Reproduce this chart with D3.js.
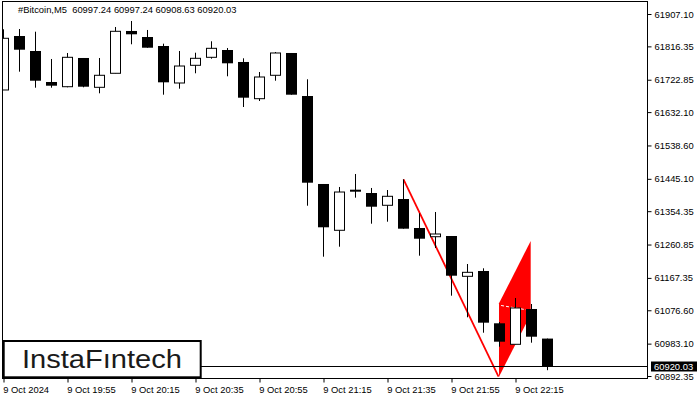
<!DOCTYPE html>
<html>
<head>
<meta charset="utf-8">
<script src="https://cdn.jsdelivr.net/npm/d3@7/dist/d3.min.js"></script>
<style>
  html, body { margin: 0; padding: 0; background: #fff; }
  svg { display: block; }
  text { font-family: "Liberation Sans", Arial, sans-serif; }
</style>
</head>
<body>
<svg id="chart" width="700" height="400"></svg>
<script>
// ---- data ----
const times = ["19:35","19:40","19:45","19:50","19:55","20:00","20:05","20:10","20:15","20:20",
  "20:25","20:30","20:35","20:40","20:45","20:50","20:55","21:00","21:05","21:10",
  "21:15","21:20","21:25","21:30","21:35","21:40","21:45","21:50","21:55","22:00",
  "22:05","22:10","22:15","22:20","22:25"];
const open  = [61694.1,61845.4,61803.4,61716.5,61703.3,61783.8,61701.6,61740.9,61859.5,61842.6,
  61817.4,61713.7,61763.3,61785.7,61806.2,61772.6,61669.7,61735.3,61797.8,61677.2,
  61430.6,61300.8,61414.6,61405.3,61370.9,61388.5,61307.2,61282.8,61284.8,61171.8,
  61186.7,61040.1,60981.2,61080.2,60997.24];
const high  = [61864.2,61865.0,61857.5,61781.0,61797.8,61783.8,61783.8,61870.7,61887.5,61862.3,
  61823.9,61803.4,61798.6,61830.6,61811.8,61782.9,61744.5,61800.6,61797.8,61724.1,
  61430.6,61422.2,61458.6,61419.4,61413.7,61443.7,61348.4,61352.1,61284.8,61206.3,
  61194.3,61043.7,61111.0,61094.2,60997.24];
const low   = [61694.1,61745.4,61700.5,61700.5,61701.6,61701.6,61684.8,61740.9,61822.2,61812.6,
  61680.9,61697.7,61740.9,61781.8,61732.5,61646.4,61663.2,61720.1,61680.9,61369.7,
  61226.8,61254.8,61392.2,61319.3,61324.9,61305.3,61229.6,61251.2,61117.5,61056.9,
  61013.7,60974.5,60981.2,60985.7,60908.63];
const close = [61839.0,61807.0,61720.1,61706.1,61785.7,61703.3,61735.3,61858.6,61850.2,61812.6,
  61715.6,61761.3,61782.9,61810.9,61768.9,61672.5,61730.5,61797.8,61680.9,61434.2,
  61309.2,61408.1,61409.0,61366.9,61396.1,61305.3,61277.2,61290.4,61173.5,61183.0,
  61041.8,60988.5,61083.0,61002.5,60920.03];

const priceTicks = [61907.10,61816.35,61722.85,61632.10,61538.60,61445.10,61354.35,
  61260.85,61167.35,61076.60,60983.10,60892.35];
const timeTickIdx = [0,4,8,12,16,20,24,28,32];
const timeTickLabels = ["9 Oct 2024","9 Oct 19:55","9 Oct 20:15","9 Oct 20:35","9 Oct 20:55",
  "9 Oct 21:15","9 Oct 21:35","9 Oct 21:55","9 Oct 22:15"];

const title = "#Bitcoin,M5  60997.24 60997.24 60908.63 60920.03";
const currentPrice = 60920.03;

// pattern (index, price) points
const poleLine = [[25, 61443.7],[30.94, 60890.4]];
const flagPoly = [[30.97, 61096.1],[32.95, 61270.8],[32.95, 61065.0],[30.97, 60890.4]];
const flagDash = [[31.1, 61090.0],[32.8, 61077.0]];

// ---- layout ----
const svg = d3.select("#chart");
const L = 2.5, R = 647.5, T = 1.5, B = 378.5;

const x = d3.scaleLinear().domain([0, 34]).range([3.5, 547.5]);
const y = d3.scaleLinear().domain([60892.35, 61907.10]).range([376, 14]);

svg.append("defs").append("clipPath").attr("id","plotclip")
  .append("rect").attr("x", L).attr("y", T).attr("width", R - L).attr("height", B - T);

const plot = svg.append("g").attr("clip-path","url(#plotclip)");

// pattern
plot.append("polygon")
  .attr("points", flagPoly.map(d => [x(d[0]), y(d[1])].join(",")).join(" "))
  .attr("fill", "#ff0000");
plot.append("line")
  .attr("x1", x(flagDash[0][0])).attr("y1", y(flagDash[0][1]))
  .attr("x2", x(flagDash[1][0])).attr("y2", y(flagDash[1][1]))
  .attr("stroke", "#fff").attr("stroke-width", 1).attr("stroke-dasharray", "3,2");
plot.append("line")
  .attr("x1", x(poleLine[0][0])).attr("y1", y(poleLine[0][1]))
  .attr("x2", x(poleLine[1][0])).attr("y2", y(poleLine[1][1]))
  .attr("stroke", "#ff0000").attr("stroke-width", 1.8);

// candles
const idx = d3.range(times.length);
const cg = plot.append("g");
cg.selectAll("line.wick").data(idx).join("line")
  .attr("class","wick")
  .attr("x1", i => x(i)).attr("x2", i => x(i))
  .attr("y1", i => y(high[i])).attr("y2", i => y(low[i]))
  .attr("stroke", "#000").attr("stroke-width", 1);
cg.selectAll("rect.body").data(idx).join("rect")
  .attr("class","body")
  .attr("x", i => close[i] >= open[i] ? x(i) - 5 : x(i) - 5.5)
  .attr("width", i => close[i] >= open[i] ? 10 : 11)
  .attr("y", i => y(Math.max(open[i], close[i])))
  .attr("height", i => Math.max(1, Math.abs(y(open[i]) - y(close[i]))))
  .attr("fill", i => close[i] >= open[i] ? "#fff" : "#000")
  .attr("stroke", i => close[i] >= open[i] ? "#000" : "none")
  .attr("stroke-width", 1);

// current price line
const cpY = Math.round(y(currentPrice)) + 0.5;
plot.append("line").attr("x1", L).attr("x2", R).attr("y1", cpY).attr("y2", cpY)
  .attr("stroke", "#000").attr("stroke-width", 1);

// frame
svg.append("rect").attr("x", L).attr("y", T).attr("width", R - L).attr("height", B - T)
  .attr("fill", "none").attr("stroke", "#000").attr("stroke-width", 1);

// y axis
const yAxis = d3.axisRight(y).tickValues(priceTicks).tickSize(4).tickPadding(3)
  .tickFormat(d => d.toFixed(2));
const ya = svg.append("g").attr("transform", `translate(${R},0)`).call(yAxis);
ya.select(".domain").remove();
ya.selectAll("text").attr("font-size", "9.4px").attr("fill", "#000")
  .attr("font-family", '"Liberation Sans", Arial, sans-serif');
ya.selectAll("line").attr("stroke", "#000");

// current price label
const cpg = svg.append("g");
cpg.append("rect").attr("x", 651).attr("y", cpY - 5).attr("width", 46).attr("height", 10).attr("fill", "#000");
cpg.append("text").attr("x", 654).attr("y", cpY + 3.4).attr("font-size", "9.4px").attr("fill", "#fff")
  .text(currentPrice.toFixed(2));

// x axis
const xAxis = d3.axisBottom(x).tickValues(timeTickIdx).tickSize(4)
  .tickFormat((d, k) => timeTickLabels[k]);
const xa = svg.append("g").attr("transform", `translate(0,${B})`).call(xAxis);
xa.select(".domain").remove();
xa.selectAll("line").attr("stroke", "#000");
xa.selectAll("text").attr("font-size", "9.4px").attr("fill", "#000")
  .attr("text-anchor", "start").attr("dx", "-0.8").attr("y", 14.3).attr("dy", 0)
  .attr("font-family", '"Liberation Sans", Arial, sans-serif');

// title
svg.append("text").attr("x", 18).attr("y", 13.3).attr("font-size", "9.4px").attr("fill", "#000")
  .attr("xml:space", "preserve").style("white-space", "pre").text(title);

// logo
const logo = svg.append("g");
logo.append("rect").attr("x", 3.7).attr("y", 341).attr("width", 197).attr("height", 36.3)
  .attr("fill", "#fff").attr("stroke", "#000").attr("stroke-width", 2);
logo.append("text").attr("x", 22).attr("y", 368.3)
  .attr("font-family", 'Inter, "Noto Sans", sans-serif').attr("font-weight", 500)
  .attr("font-size", "25px").attr("fill", "#1a1a1a")
  .attr("textLength", 160).attr("lengthAdjust", "spacingAndGlyphs")
  .text("InstaFıntech");
</script>
</body>
</html>
